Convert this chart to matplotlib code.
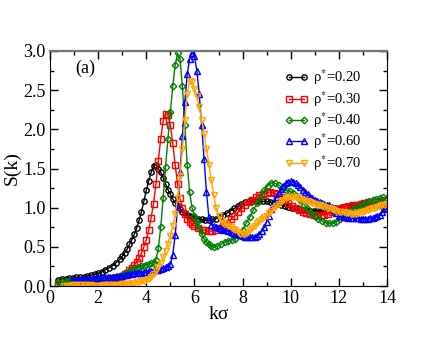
import numpy as np
import matplotlib.pyplot as plt
from matplotlib.ticker import MultipleLocator

plt.rcParams['font.family'] = 'Liberation Serif'
plt.rcParams['mathtext.fontset'] = 'stix'

# rho* = 0.20
k_020 = [0.35, 0.5, 0.65, 0.8, 0.95, 1.1, 1.25, 1.4, 1.55, 1.7, 1.85, 2.0, 2.15, 2.3, 2.45, 2.6,
         2.75, 2.9, 3.0, 3.1, 3.2, 3.3, 3.4, 3.5, 3.6, 3.7, 3.8, 3.9, 4.0, 4.1, 4.2, 4.3, 4.4,
         4.5, 4.6, 4.7, 4.8, 4.9, 5.0, 5.1, 5.2, 5.3, 5.4, 5.5, 5.6, 5.7, 5.8, 5.9, 6.0, 6.15,
         6.3, 6.45, 6.6, 6.75, 6.9, 7.05, 7.2, 7.35, 7.5, 7.65, 7.8, 7.95, 8.1, 8.25, 8.4, 8.55,
         8.7, 8.85, 9.0, 9.15, 9.3, 9.45, 9.6, 9.75, 9.9, 10.05, 10.2, 10.35, 10.5, 10.65, 10.8,
         10.95, 11.1, 11.25, 11.4, 11.55, 11.7, 11.85, 12.0, 12.15, 12.3, 12.45, 12.6, 12.75,
         12.9, 13.05, 13.2, 13.35, 13.5, 13.65, 13.8, 13.95]
s_020 = [0.08, 0.09, 0.09, 0.10, 0.10, 0.11, 0.11, 0.12, 0.13, 0.14, 0.15, 0.16, 0.18, 0.21, 0.23, 0.26,
         0.30, 0.34, 0.38, 0.42, 0.47, 0.53, 0.59, 0.66, 0.74, 0.84, 0.95, 1.08, 1.22, 1.34, 1.45, 1.53, 1.55,
         1.50, 1.45, 1.38, 1.30, 1.23, 1.17, 1.11, 1.06, 1.02, 0.98, 0.95, 0.93, 0.91, 0.89, 0.88, 0.87, 0.86,
         0.85, 0.84, 0.84, 0.85, 0.86, 0.88, 0.91, 0.93, 0.96, 0.99, 1.02, 1.05, 1.07, 1.08, 1.09, 1.09,
         1.09, 1.08, 1.08, 1.07, 1.06, 1.05, 1.03, 1.02, 1.01, 1.00, 0.99, 0.98, 0.97, 0.97, 0.96,
         0.96, 0.96, 0.96, 0.96, 0.97, 0.98, 0.99, 1.00, 1.01, 1.02, 1.02, 1.03, 1.03,
         1.03, 1.03, 1.03, 1.03, 1.03, 1.03, 1.02, 1.02]

# rho* = 0.30
k_030 = k_020
s_030 = [0.02, 0.03, 0.03, 0.03, 0.04, 0.04, 0.04, 0.05, 0.05, 0.05, 0.06, 0.06, 0.07, 0.07, 0.08, 0.09,
         0.10, 0.12, 0.13, 0.15, 0.17, 0.20, 0.23, 0.27, 0.31, 0.36, 0.42, 0.50, 0.59, 0.71, 0.87, 1.05, 1.30,
         1.60, 1.88, 2.10, 2.20, 2.18, 2.05, 1.82, 1.55, 1.30, 1.12, 1.00, 0.92, 0.86, 0.82, 0.79, 0.77, 0.74,
         0.72, 0.71, 0.70, 0.70, 0.71, 0.74, 0.77, 0.81, 0.85, 0.89, 0.94, 0.99, 1.03, 1.07, 1.10, 1.13,
         1.16, 1.18, 1.19, 1.20, 1.19, 1.17, 1.14, 1.10, 1.06, 1.02, 0.99, 0.97, 0.95, 0.93, 0.92,
         0.91, 0.90, 0.90, 0.91, 0.92, 0.94, 0.96, 0.98, 1.00, 1.01, 1.02, 1.03, 1.04,
         1.05, 1.06, 1.07, 1.07, 1.07, 1.07, 1.06, 1.05]

# rho* = 0.40
k_040 = [0.35, 0.5, 0.65, 0.8, 0.95, 1.1, 1.25, 1.4, 1.55, 1.7, 1.85, 2.0, 2.15, 2.3, 2.45, 2.6,
         2.75, 2.9, 3.0, 3.1, 3.2, 3.3, 3.4, 3.5, 3.6, 3.7, 3.8, 3.9, 4.0, 4.1, 4.2, 4.3, 4.4,
         4.5, 4.6, 4.7, 4.8, 4.9, 5.0, 5.1, 5.2, 5.3, 5.4, 5.5, 5.6, 5.7, 5.8, 5.9, 6.0, 6.1,
         6.2, 6.3, 6.4, 6.5, 6.6, 6.7, 6.8, 6.95, 7.1, 7.25, 7.4, 7.55, 7.7, 7.85, 8.0, 8.15,
         8.3, 8.45, 8.6, 8.75, 8.9, 9.05, 9.2, 9.35, 9.5, 9.65, 9.8, 9.95, 10.1, 10.25, 10.4,
         10.55, 10.7, 10.85, 11.0, 11.15, 11.3, 11.45, 11.6, 11.75, 11.9, 12.05, 12.2, 12.35,
         12.5, 12.65, 12.8, 12.95, 13.1, 13.25, 13.4, 13.55, 13.7, 13.85, 14.0]
s_040 = [0.05, 0.05, 0.06, 0.06, 0.06, 0.07, 0.07, 0.07, 0.08, 0.08, 0.08, 0.09, 0.09, 0.10, 0.10, 0.11,
         0.12, 0.13, 0.14, 0.15, 0.17, 0.19, 0.20, 0.22, 0.23, 0.24, 0.25, 0.26, 0.27, 0.28, 0.29, 0.30, 0.33,
         0.48, 0.75, 1.12, 1.52, 1.88, 2.22, 2.55, 2.82, 2.97, 2.90, 2.55, 2.05, 1.55, 1.20, 1.00, 0.90, 0.82,
         0.74, 0.67, 0.60, 0.56, 0.53, 0.51, 0.50, 0.51, 0.53, 0.56, 0.58, 0.59, 0.60, 0.65, 0.72, 0.80,
         0.88, 0.97, 1.06, 1.14, 1.22, 1.28, 1.32, 1.31, 1.29, 1.25, 1.22, 1.21, 1.19, 1.15, 1.10,
         1.04, 0.98, 0.93, 0.89, 0.86, 0.83, 0.81, 0.80, 0.80, 0.82, 0.85, 0.88, 0.92,
         0.96, 0.99, 1.02, 1.04, 1.06, 1.08, 1.10, 1.11, 1.12, 1.13, 1.12]

# rho* = 0.60
k_060 = [0.9, 1.0, 1.1, 1.2, 1.3, 1.4, 1.5, 1.6, 1.7, 1.8, 1.9, 2.0, 2.1, 2.2, 2.3, 2.4, 2.5, 2.6,
         2.7, 2.8, 2.9, 3.0, 3.1, 3.2, 3.3, 3.4, 3.5, 3.6, 3.7, 3.8, 3.9, 4.0, 4.1, 4.2, 4.3, 4.4,
         4.5, 4.6, 4.7, 4.8, 4.9, 5.0, 5.1, 5.2, 5.3, 5.4, 5.5, 5.6, 5.7, 5.8, 5.9, 6.0, 6.1, 6.2,
         6.3, 6.4, 6.5, 6.6, 6.7, 6.8, 6.9, 7.0, 7.1, 7.2, 7.3, 7.4, 7.5, 7.6, 7.7, 7.8, 7.9, 8.0,
         8.1, 8.2, 8.3, 8.4, 8.5, 8.6, 8.7, 8.8, 8.9, 9.0, 9.1, 9.2, 9.3, 9.4, 9.5, 9.6, 9.7, 9.8,
         9.9, 10.0, 10.1, 10.2, 10.3, 10.4, 10.5, 10.6, 10.7, 10.8, 10.9, 11.0, 11.1, 11.2, 11.3,
         11.4, 11.5, 11.6, 11.7, 11.8, 11.9, 12.0, 12.1, 12.2, 12.3, 12.4, 12.5, 12.6, 12.7, 12.8,
         12.9, 13.0, 13.1, 13.2, 13.3, 13.4, 13.5, 13.6, 13.7, 13.8, 13.9, 14.0]
s_060 = [0.08, 0.08, 0.08, 0.08, 0.09, 0.09, 0.09, 0.09, 0.09, 0.10, 0.10, 0.10, 0.10, 0.11, 0.11, 0.11, 0.12, 0.12,
         0.12, 0.13, 0.13, 0.13, 0.14, 0.14, 0.15, 0.15, 0.16, 0.16, 0.17, 0.17, 0.18, 0.18, 0.19, 0.19, 0.20, 0.21,
         0.21, 0.22, 0.23, 0.24, 0.25, 0.28, 0.40, 0.65, 1.00, 1.45, 1.92, 2.35, 2.70, 2.90, 2.98, 2.93, 2.75, 2.45,
         2.05, 1.62, 1.20, 0.88, 0.78, 0.76, 0.75, 0.74, 0.73, 0.72, 0.71, 0.70, 0.69, 0.68, 0.67, 0.66, 0.65, 0.64,
         0.63, 0.63, 0.62, 0.62, 0.63, 0.64, 0.66, 0.70, 0.75, 0.82, 0.90, 0.98, 1.06, 1.13, 1.19, 1.24, 1.28, 1.31,
         1.33, 1.34, 1.33, 1.31, 1.29, 1.26, 1.23, 1.20, 1.17, 1.14, 1.12, 1.10, 1.08, 1.07, 1.06,
         1.05, 1.04, 1.03, 1.01, 0.97, 0.93, 0.90, 0.89, 0.88, 0.88, 0.87, 0.87, 0.87, 0.87, 0.87,
         0.86, 0.86, 0.86, 0.86, 0.87, 0.87, 0.88, 0.89, 0.91, 0.94, 0.98, 1.00]

# rho* = 0.70
k_070 = [0.6, 0.7, 0.8, 0.9, 1.0, 1.1, 1.2, 1.3, 1.4, 1.5, 1.6, 1.7, 1.8, 1.9, 2.0, 2.1, 2.2, 2.3,
         2.4, 2.5, 2.6, 2.7, 2.8, 2.9, 3.0, 3.1, 3.2, 3.3, 3.4, 3.5, 3.6, 3.7, 3.8, 3.9, 4.0, 4.1,
         4.2, 4.3, 4.4, 4.5, 4.6, 4.7, 4.8, 4.9, 5.0, 5.1, 5.2, 5.3, 5.4, 5.5, 5.6, 5.7, 5.8, 5.9,
         6.0, 6.1, 6.2, 6.3, 6.4, 6.5, 6.6, 6.7, 6.8, 6.9, 7.0, 7.1, 7.2, 7.3, 7.4, 7.5, 7.6, 7.7,
         7.8, 7.9, 8.0, 8.1, 8.2, 8.3, 8.4, 8.5, 8.6, 8.7, 8.8, 8.9, 9.0, 9.1, 9.2, 9.3, 9.4, 9.5,
         9.6, 9.7, 9.8, 9.9, 10.0, 10.1, 10.2, 10.3, 10.4, 10.5, 10.6, 10.7, 10.8, 10.9, 11.0,
         11.1, 11.2, 11.3, 11.4, 11.5, 11.6, 11.7, 11.8, 11.9, 12.0, 12.1, 12.2, 12.3, 12.4, 12.5,
         12.6, 12.7, 12.8, 12.9, 13.0, 13.1, 13.2, 13.3, 13.4, 13.5, 13.6, 13.7, 13.8, 13.9, 14.0]
s_070 = [0.00, 0.00, 0.00, 0.01, 0.01, 0.01, 0.01, 0.01, 0.01, 0.01, 0.01, 0.01, 0.00, 0.00, 0.00, 0.00, 0.01, 0.01,
         0.01, 0.01, 0.01, 0.01, 0.01, 0.01, 0.02, 0.02, 0.03, 0.03, 0.04, 0.04, 0.05, 0.05, 0.06, 0.07, 0.08, 0.09,
         0.12, 0.15, 0.19, 0.24, 0.30, 0.37, 0.45, 0.54, 0.64, 0.76, 0.92, 1.12, 1.40, 1.75, 2.12, 2.45, 2.62, 2.60,
         2.52, 2.42, 2.28, 2.12, 1.94, 1.75, 1.55, 1.35, 1.16, 1.00, 0.90, 0.84, 0.81, 0.79, 0.77, 0.75, 0.73, 0.71,
         0.69, 0.67, 0.66, 0.66, 0.68, 0.71, 0.74, 0.77, 0.80, 0.83, 0.86, 0.88, 0.90, 0.93, 0.96, 0.99, 1.02, 1.05,
         1.08, 1.10, 1.12, 1.13, 1.14, 1.14, 1.13, 1.12, 1.11, 1.10, 1.09, 1.08, 1.07, 1.06, 1.05,
         1.04, 1.03, 1.02, 1.01, 1.00, 0.99, 0.98, 0.97, 0.96, 0.95, 0.94, 0.94, 0.93, 0.93, 0.92,
         0.92, 0.92, 0.93, 0.94, 0.95, 0.96, 0.97, 0.98, 0.99, 1.00, 1.01, 1.02, 1.03, 1.04, 1.05]

series = [
    (k_020, s_020, 'black', 'o', r'ρ$^{*}$=0.20'),
    (k_030, s_030, 'red', 's', r'ρ$^{*}$=0.30'),
    (k_040, s_040, 'green', 'D', r'ρ$^{*}$=0.40'),
    (k_060, s_060, 'blue', '^', r'ρ$^{*}$=0.60'),
    (k_070, s_070, 'orange', 'v', r'ρ$^{*}$=0.70'),
]

fig = plt.figure(figsize=(4.36, 3.37), dpi=100)
ax = fig.add_axes([0.1147, 0.1513, 0.7729, 0.6974])

for k, s, c, m, lab in series:
    ms = 3.3 if m == 'D' else 3.8
    ax.plot(k, s, color=c, lw=1, marker=m, ms=ms, mfc='none', mec=c, mew=1, label=lab)

ax.set_xlim(0, 14)
ax.set_ylim(0, 3.0)
ax.xaxis.set_major_locator(MultipleLocator(2))
ax.xaxis.set_minor_locator(MultipleLocator(1))
ax.yaxis.set_major_locator(MultipleLocator(0.5))
ax.yaxis.set_minor_locator(MultipleLocator(0.25))
ax.set_xticklabels([f'{v:g}' for v in ax.get_xticks()])
ax.set_yticks(np.arange(0, 3.01, 0.5))
ax.set_yticklabels([f'{v:.1f}' for v in np.arange(0, 3.01, 0.5)])
ax.tick_params(which='both', direction='in', top=True, right=True, labelsize=13, pad=3)
ax.tick_params(which='major', length=6, width=1)
ax.tick_params(which='minor', length=3, width=1)
ax.spines['top'].set_color('0.45')
ax.spines['top'].set_linewidth(1.6)

ax.set_xlabel('kσ', fontsize=14, labelpad=-1)
ax.set_ylabel('S(k)', fontsize=14, labelpad=2)
ax.text(1.05, 2.72, '(a)', fontsize=13)

ax.legend(loc='upper right', bbox_to_anchor=(0.945, 0.96), frameon=False, fontsize=10.5,
          numpoints=2, handlelength=1.6, handletextpad=0.3, labelspacing=0.12, borderpad=0)

fig.savefig('out.png', dpi=100)
